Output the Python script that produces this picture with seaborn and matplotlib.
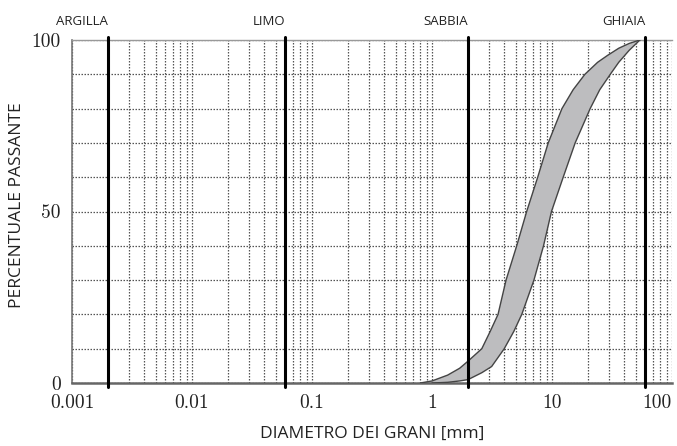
import numpy as np
import pandas as pd
import matplotlib
matplotlib.use("Agg")
import matplotlib.pyplot as plt
import seaborn as sns

# --- data ---
upper_d = [0.8, 1.0, 1.35, 1.7, 2.0, 2.6, 3.05, 3.55, 4.14, 5.08, 6.15, 7.6, 9.3, 12.1, 15.0, 18.8, 24.0, 29.0, 36.0, 44.0, 54.0]
upper_p = [0, 0.6, 2.3, 4.3, 6.4, 10, 15, 20, 30, 40, 50, 60, 70, 80, 85.5, 90, 93.5, 95.5, 97.6, 99.0, 100]
lower_d = [1.0, 1.35, 1.7, 2.0, 2.6, 3.14, 4.0, 4.8, 5.6, 7.07, 8.5, 9.9, 12.4, 15.6, 20.8, 25.0, 30.6, 36.0, 44.0, 54.0]
lower_p = [0, 0.2, 0.6, 1.0, 3.0, 4.8, 10, 15, 20, 30, 40, 50, 60, 70, 80, 85.5, 90, 93.5, 97.0, 100]

boundaries = [0.002, 0.06, 2, 60]
boundary_labels = ["ARGILLA", "LIMO", "SABBIA", "GHIAIA"]
x_major = [0.001, 0.01, 0.1, 1, 10, 100]
x_major_labels = ["0.001", "0.01", "0.1", "1", "10", "100"]
y_major = [0, 50, 100]
y_major_labels = ["0", "50", "100"]

sns.set_theme(style="white")
plt.rcParams["font.family"] = ["Open Sans", "DejaVu Sans"]

fig = plt.figure(figsize=(6.77, 4.46), dpi=100)
ax = fig.add_axes([72 / 677, 1 - 383 / 446, 600 / 677, 343 / 446])

df_u = pd.DataFrame({"d": upper_d, "p": upper_p})
df_l = pd.DataFrame({"d": lower_d, "p": lower_p})

# band fill
ax.fill(np.concatenate([upper_d, lower_d[::-1]]),
        np.concatenate([upper_p, lower_p[::-1]]),
        color="#bdbdbf", zorder=2, lw=0)
sns.lineplot(data=df_u, x="d", y="p", ax=ax, color="#444444", lw=1.0, sort=False, zorder=3)
sns.lineplot(data=df_l, x="d", y="p", ax=ax, color="#444444", lw=1.0, sort=False, zorder=3)

ax.set_xscale("log")
ax.set_xlim(0.001, 100)
ax.set_ylim(0, 100)

# ticks and grid
ax.set_xticks(x_major)
ax.set_xticklabels(x_major_labels, fontfamily="cmr10", fontsize=14)
xl = ax.get_xticklabels()
xl[-1].set_horizontalalignment("right")
minor_x = [m * 10.0 ** k for k in range(-3, 2) for m in range(2, 10)]
ax.set_xticks(minor_x, minor=True)
ax.set_yticks(y_major)
ax.set_yticklabels(y_major_labels, fontfamily="cmr10", fontsize=14)
ax.set_yticks(list(range(10, 100, 10)), minor=True)

ax.grid(True, which="both", axis="both", linestyle=(0, (1.2, 1.2)), color="#555555", lw=0.9, zorder=1)
ax.tick_params(axis="x", which="both", length=0, pad=8, colors="#222222")
ax.tick_params(axis="y", which="major", length=4, width=1, color="#777777", direction="out", pad=4, labelcolor="#222222")
ax.tick_params(axis="y", which="minor", length=0)

ax.spines["right"].set_visible(False)
ax.spines["top"].set_color("#999999")
ax.spines["top"].set_linewidth(1.0)
ax.spines["left"].set_color("#777777")
ax.spines["left"].set_linewidth(1.2)
ax.spines["bottom"].set_color("#666666")
ax.spines["bottom"].set_linewidth(1.8)

for b, lab in zip(boundaries, boundary_labels):
    ax.axvline(b, ymin=-0.012, ymax=1.008, color="black", lw=2.2, zorder=4, clip_on=False)
    ax.text(b, 1.055, lab, transform=ax.get_xaxis_transform(), ha="right", va="center",
            fontsize=9.5, color="#222222")

ax.set_xlabel("DIAMETRO DEI GRANI [mm]", fontsize=12.5, color="#222222")
ax.set_ylabel("PERCENTUALE PASSANTE", fontsize=12.5, color="#222222")
ax.xaxis.set_label_coords(0.5, -0.125)
ax.yaxis.set_label_coords(-0.078, 0.52)

fig.savefig("out.png", dpi=100)
